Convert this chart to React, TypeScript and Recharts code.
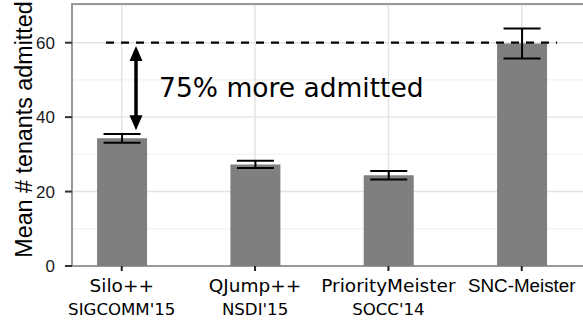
import React from 'react';
import {
  BarChart, Bar, XAxis, YAxis, CartesianGrid, ErrorBar, ReferenceLine, ReferenceArea, ReferenceDot,
} from 'recharts';

const systems = ['Silo++', 'QJump++', 'PriorityMeister', 'SNC-Meister'];
const venues = ['SIGCOMM\'15', 'NSDI\'15', 'SOCC\'14', ''];
const meanAdmitted = [34.3, 27.3, 24.4, 59.8];
const errAdmitted = [1.15, 0.95, 1.15, 4.05];
const yTicks = [0, 20, 40, 60];
const yMinor = [10, 30, 50, 70];
const targetLine = 60;
const annotationText = '75% more admitted';

const XMIN = 0.627;
const XMAX = 4.512;
const YMAX = 70.4;

const data = systems.map((name, i) => ({
  name,
  venue: venues[i],
  pos: i + 1,
  mean: meanAdmitted[i],
  err: errAdmitted[i],
}));

const XLabel = (props: any) => {
  const { x, y, payload } = props;
  const idx = Math.round(payload.value) - 1;
  const d = data[idx];
  if (!d) return null;
  const isSNC = d.name === 'SNC-Meister';
  return (
    <g>
      <line x1={x} x2={x} y1={y} y2={y + 5} stroke="#222" strokeWidth={2} />
      <text
        x={x}
        y={y + 26}
        textAnchor="middle"
        fill="#000"
        fontSize={isSNC ? 18.8 : 18.5}
        fontFamily={isSNC ? 'Liberation Sans, Arial, sans-serif' : 'DejaVu Sans, sans-serif'}
      >
        {d.name}
      </text>
      {d.venue ? (
        <text x={x} y={y + 49} textAnchor="middle" fill="#000" fontSize={16.6} fontFamily="DejaVu Sans, sans-serif">
          {d.venue}
        </text>
      ) : null}
    </g>
  );
};

const DoubleArrow = (props: any) => {
  const { x1, y1, x2, y2 } = props;
  const x = x1;
  const top = Math.min(y1, y2);
  const bot = Math.max(y1, y2);
  const hl = 15;
  const hw = 6.5;
  return (
    <g>
      <line x1={x} y1={top + hl - 2} x2={x} y2={bot - hl + 2} stroke="#000" strokeWidth={3.5} />
      <polygon points={`${x},${top} ${x - hw},${top + hl} ${x + hw},${top + hl}`} fill="#000" />
      <polygon points={`${x},${bot} ${x - hw},${bot - hl} ${x + hw},${bot - hl}`} fill="#000" />
    </g>
  );
};

const AnnotText = (props: any) => (
  <text x={props.cx} y={props.cy} fill="#000" fontSize={26.5} fontFamily="DejaVu Sans, sans-serif">
    {annotationText}
  </text>
);

const YLabel = (props: any) => {
  const vb = props.viewBox || {};
  const cx = 32;
  const cy = (vb.y ?? 4) + (vb.height ?? 262) / 2 - 5.5;
  return (
    <text
      x={cx}
      y={cy}
      transform={`rotate(-90 ${cx} ${cy})`}
      textAnchor="middle"
      fill="#000"
      fontSize={23.3}
      fontFamily="Liberation Sans, Arial, sans-serif"
    >
      Mean # tenants admitted
    </text>
  );
};

export default function App() {
  return (
    <div style={{ position: 'absolute', left: 0, top: 0, width: 583, height: 322, overflow: 'hidden', background: '#fff' }}>
      <BarChart width={590} height={322} data={data} margin={{ top: 4, right: 0, left: 0, bottom: 0 }}>
        <CartesianGrid horizontalValues={yMinor} vertical={false} stroke="#f2f2f2" strokeWidth={1.2} />
        <CartesianGrid horizontalValues={yTicks} stroke="#e3e3e3" strokeWidth={1.4} />
        <XAxis
          dataKey="pos"
          type="number"
          domain={[XMIN, XMAX]}
          allowDataOverflow
          ticks={[1, 2, 3, 4]}
          height={56}
          axisLine={false}
          tickLine={false}
          tickSize={0}
          tickMargin={0}
          tick={<XLabel />}
          interval={0}
        />
        <YAxis
          type="number"
          domain={[0, YMAX]}
          allowDataOverflow
          ticks={yTicks}
          width={72}
          axisLine={false}
          tickLine={{ stroke: '#333', strokeWidth: 2 }}
          tickSize={7}
          tickMargin={10}
          tick={{ fill: '#1a1a1a', fontSize: 17, fontFamily: 'Liberation Sans, Arial, sans-serif' }}
          label={<YLabel />}
        />
        <Bar dataKey="mean" fill="#7f7f7f" barSize={50} isAnimationActive={false}>
          <ErrorBar dataKey="err" width={18.5} stroke="#000" strokeWidth={2} direction="y" />
        </Bar>
        <ReferenceLine
          segment={[{ x: 0.882, y: targetLine }, { x: 4.265, y: targetLine }]}
          stroke="#000"
          strokeWidth={2.2}
          strokeDasharray="8 7"
        />
        <ReferenceLine
          segment={[{ x: 1.107, y: 36.5 }, { x: 1.107, y: 59.1 }]}
          shape={<DoubleArrow />}
        />
        <ReferenceDot x={1.28} y={45.4} r={0} shape={<AnnotText />} />
        <ReferenceArea x1={XMIN} x2={XMAX} y1={0} y2={YMAX} fill="none" stroke="#999" strokeWidth={2} />
      </BarChart>
    </div>
  );
}
